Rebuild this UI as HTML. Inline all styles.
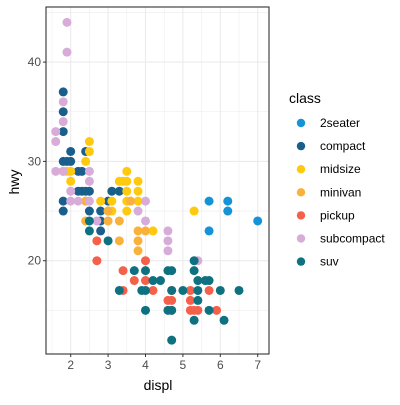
<!DOCTYPE html>
<html><head><meta charset="utf-8"><style>body{margin:0;background:#fff}svg{font-family:"Liberation Sans",sans-serif}</style></head>
<body>
<svg id="chart" width="400" height="400" xmlns="http://www.w3.org/2000/svg"></svg>
<script>
const classes=["2seater","compact","midsize","minivan","pickup","subcompact","suv"];
const colors=["#1593D6","#1A5E8C","#FFC90E","#FAB13C","#F4604A","#D7ACD8","#0E7180"];
const xTicks=[2,3,4,5,6,7];
const yTicks=[20,30,40];
const pts2seater=[[5.7,26],[5.7,23],[6.2,26],[6.2,25],[7.0,24]];
const ptsCompact=[[1.8,37],[1.8,35],[1.8,33],[1.8,30],[1.8,26],[1.8,25],[1.9,30],[2.0,31],[2.0,30],[2.2,29],[2.3,29],[2.4,31],[2.2,27],[2.3,27],[2.4,27],[2.5,27],[2.5,25],[2.8,25],[2.8,24],[2.8,23],[3.0,26],[3.1,27],[3.3,27]];
const ptsMidsize=[[2.5,32],[2.5,31],[2.4,30],[1.8,29],[1.9,29],[2.0,29],[2.0,28],[2.4,26],[2.8,26],[3.1,26],[3.0,25],[3.1,25],[3.3,28],[3.4,28],[3.5,28],[3.5,29],[3.5,27],[3.5,26],[3.5,25],[3.6,26],[3.8,28],[3.8,27],[3.8,26],[4.2,23],[5.3,25]];
const ptsMinivan=[[2.4,24],[3.0,24],[3.3,24],[3.3,22],[3.8,23],[3.8,22],[3.8,21],[4.0,23],[3.6,26],[3.0,25],[2.4,26]];
const ptsPickup=[[2.7,22],[2.7,20],[3.4,19],[3.4,17],[3.7,18],[4.0,20],[4.0,18],[4.2,17],[4.7,17],[4.7,16],[4.6,16],[4.7,15],[5.2,17],[5.2,15],[5.3,15],[5.4,15],[5.2,16],[5.7,17],[5.9,15]];
const ptsSubcompact=[[1.9,44],[1.9,41],[1.8,36],[1.8,34],[1.6,33],[1.6,32],[1.6,29],[1.8,29],[2.0,27],[2.0,26],[2.2,26],[2.5,29],[2.5,28],[2.5,26],[2.7,24],[3.8,25],[4.0,26],[4.0,24],[4.6,23],[4.6,22],[4.6,21],[5.4,20]];
const ptsSuv=[[2.5,24],[2.5,23],[3.0,22],[3.3,17],[3.7,19],[4.0,19],[4.0,17],[3.9,17],[4.0,15],[4.2,18],[4.4,18],[4.6,19],[4.7,19],[4.7,17],[4.6,15],[4.7,15],[4.7,12],[5.0,17],[5.3,20],[5.3,19],[5.4,18],[5.4,17],[5.4,16],[5.3,14],[5.7,18],[5.6,18],[5.7,15],[6.0,17],[6.1,14],[6.5,17]];
const series=[pts2seater,ptsCompact,ptsMidsize,ptsMinivan,ptsPickup,ptsSubcompact,ptsSuv];
const svg=document.getElementById('chart');const NS="http://www.w3.org/2000/svg";
const L=46,R=269,T=7,B=354;
const xs=v=>70.7+(v-2)*37.4;
const ys=v=>260.7-(v-20)*9.93;
function mk(t,a,p){const e=document.createElementNS(NS,t);for(const k in a)e.setAttribute(k,a[k]);(p||svg).appendChild(e);return e;}
const bg=mk('rect',{x:L,y:T,width:R-L,height:B-T,fill:'#fff'});


for(let v=1.5;v<=7.5;v+=0.5){const x=xs(v);if(x<L||x>R)continue;const g=mk('line',{x1:x,x2:x,y1:T,y2:B,stroke:'#ebebeb','stroke-width':Number.isInteger(v)?1.1:0.55});}
for(let v=10;v<=45;v+=5){const y=ys(v);if(y<T||y>B)continue;const g=mk('line',{y1:y,y2:y,x1:L,x2:R,stroke:'#ebebeb','stroke-width':v%10==0?1.1:0.55});}
series.forEach((s,i)=>{s.forEach(p=>{const c=mk('circle',{cx:xs(p[0]),cy:ys(p[1]),r:4.5,fill:colors[i]});});});
const bd=mk('rect',{x:L,y:T,width:R-L,height:B-T,fill:'none',stroke:'#333','stroke-width':1.1});


xTicks.forEach(v=>{const x=xs(v);mk('line',{x1:x,x2:x,y1:B,y2:B+3,stroke:'#333'});const t=mk('text',{x:x,y:B+15,'text-anchor':'middle','font-size':12,fill:'#4d4d4d'});t.textContent=v;});
yTicks.forEach(v=>{const y=ys(v);mk('line',{x1:L-3,x2:L,y1:y,y2:y,stroke:'#333'});const t=mk('text',{x:L-5,y:y+4,'text-anchor':'end','font-size':12,fill:'#4d4d4d'});t.textContent=v;});
const xt=mk('text',{x:158,y:390,'text-anchor':'middle','font-size':14,fill:'#000'});xt.textContent='displ';


const yt=mk('text',{x:19,y:182,'text-anchor':'middle','font-size':14,fill:'#000',transform:'rotate(-90 19 182)'});yt.textContent='hwy';


const lt=mk('text',{x:289,y:103,'font-size':14,fill:'#000'});lt.textContent='class';


classes.forEach((c,i)=>{const y=123+i*23.1;const g=mk('g',{});mk('circle',{cx:301,cy:y,r:4.2,fill:colors[i]},g);const t=mk('text',{x:320,y:y+4,'font-size':12,fill:'#000'},g);t.textContent=c;});
</script>
</body></html>
